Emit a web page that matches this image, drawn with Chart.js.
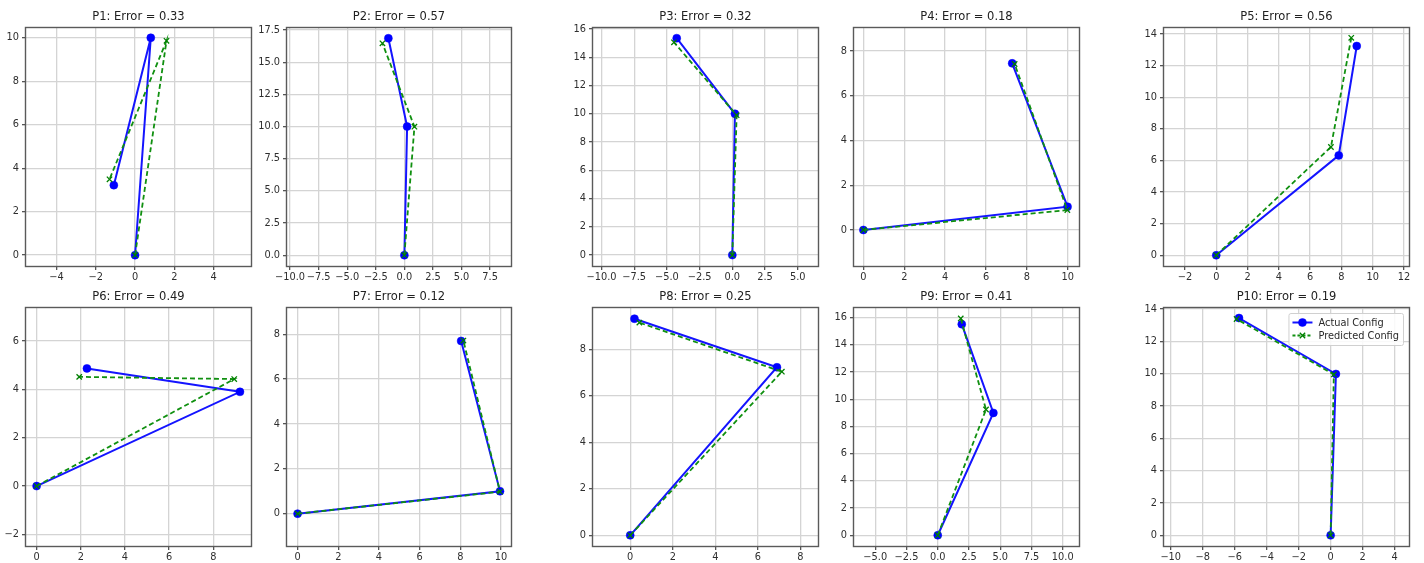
<!DOCTYPE html>
<html>
<head>
<meta charset="utf-8">
<title>Actual vs Predicted Config</title>
<script src="https://cdn.jsdelivr.net/npm/chart.js@4.4.1/dist/chart.umd.min.js"></script>
<style>
  html, body { margin: 0; padding: 0; background: #fff; }
  #figure { position: relative; width: 1424px; height: 563px; overflow: hidden; }
  #figure canvas { position: absolute; }
</style>
</head>
<body>
<div id="figure"></div>
<script>
// panel names and errors
const titles = ['P1', 'P2', 'P3', 'P4', 'P5', 'P6', 'P7', 'P8', 'P9', 'P10'];
const errors = [0.33, 0.57, 0.32, 0.18, 0.56, 0.49, 0.12, 0.25, 0.41, 0.19];

// joint positions (base, elbow, end)
const actualX = [
  [0, 0.80, -1.08], [0, 0.24, -1.40], [0, 0.20, -4.25], [0, 9.99, 7.28], [0, 7.83, 8.98],
  [0, 9.21, 2.28], [0, 9.95, 8.04], [0, 6.90, 0.20], [0, 4.45, 1.92], [0, 0.33, -5.73]
];
const actualY = [
  [0, 10.0, 3.22], [0, 10.0, 16.86], [0, 10.0, 15.35], [0, 1.04, 7.45], [0, 6.32, 13.24],
  [0, 3.90, 4.87], [0, 1.00, 7.70], [0, 7.23, 9.32], [0, 8.99, 15.51], [0, 9.98, 13.44]
];
const predictedX = [
  [0, 1.60, -1.30], [0, 0.88, -1.92], [0, 0.33, -4.46], [0, 9.98, 7.40], [0, 7.33, 8.63],
  [0, 8.95, 1.93], [0, 9.95, 8.15], [0, 7.13, 0.43], [0, 3.86, 1.84], [0, 0.20, -5.88]
];
const predictedY = [
  [0, 9.86, 3.49], [0, 9.99, 16.47], [0, 9.90, 15.06], [0, 0.89, 7.42], [0, 6.85, 13.76],
  [0, 4.43, 4.52], [0, 0.98, 7.72], [0, 7.04, 9.15], [0, 9.24, 15.93], [0, 9.95, 13.38]
];

// axis limits
const xLimits = [
  [-5.55, 5.9], [-10.27, 9.33], [-10.65, 6.55], [-0.46, 10.55], [-3.34, 12.32],
  [-0.48, 9.71], [-0.52, 10.49], [-1.75, 8.83], [-6.7, 11.3], [-10.42, 4.9]
];
const yLimits = [
  [-0.5, 10.45], [-0.84, 17.66], [-0.77, 16.07], [-1.61, 9.03], [-0.68, 14.38],
  [-2.48, 7.37], [-1.44, 9.17], [-0.46, 9.78], [-0.79, 16.7], [-0.66, 14.06]
];

// tick labels
const xTicks = [
  [-4, -2, 0, 2, 4],
  [-10, -7.5, -5, -2.5, 0, 2.5, 5, 7.5],
  [-10, -7.5, -5, -2.5, 0, 2.5, 5],
  [0, 2, 4, 6, 8, 10],
  [-2, 0, 2, 4, 6, 8, 10, 12],
  [0, 2, 4, 6, 8],
  [0, 2, 4, 6, 8, 10],
  [0, 2, 4, 6, 8],
  [-5, -2.5, 0, 2.5, 5, 7.5, 10],
  [-10, -8, -6, -4, -2, 0, 2, 4]
];
const yTicks = [
  [0, 2, 4, 6, 8, 10],
  [0, 2.5, 5, 7.5, 10, 12.5, 15, 17.5],
  [0, 2, 4, 6, 8, 10, 12, 14, 16],
  [0, 2, 4, 6, 8],
  [0, 2, 4, 6, 8, 10, 12, 14],
  [-2, 0, 2, 4, 6],
  [0, 2, 4, 6, 8],
  [0, 2, 4, 6, 8],
  [0, 2, 4, 6, 8, 10, 12, 14, 16],
  [0, 2, 4, 6, 8, 10, 12, 14]
];

const seriesLabels = ['Actual Config', 'Predicted Config'];

// plot area boxes in the page (left/right per column, top/bottom per row)
const colEdges = [[26, 251], [287, 511], [593, 818], [854, 1079], [1164, 1409]];
const rowEdges = [[28, 266], [308, 546]];
const GUTTER_LEFT = 50, GUTTER_TOP = 22, GUTTER_RIGHT = 16, GUTTER_BOTTOM = 21;
const FONT = '"DejaVu Sans", sans-serif';

function fmtTick(v, list) {
  const dec = list.some(t => t % 1 !== 0) ? 1 : 0;
  return v.toFixed(dec).replace('-', '\u2212');
}

function toPoints(xs, ys) {
  return xs.map((x, k) => ({ x: x, y: ys[k] }));
}

// matplotlib-like full frame around the axes
const framePlugin = {
  id: 'frame',
  afterDraw(chart) {
    const { ctx, chartArea: a } = chart;
    ctx.save();
    ctx.strokeStyle = '#5a5a5a';
    ctx.lineWidth = 1.4;
    ctx.strokeRect(Math.round(a.left) - 0.5, Math.round(a.top) - 0.5,
      Math.round(a.right - a.left) + 1, Math.round(a.bottom - a.top) + 1);
    ctx.restore();
  }
};

// legend with line + marker handles, drawn inside the axes
const lineLegend = {
  id: 'lineLegend',
  afterDraw(chart, args, opts) {
    if (!opts.show) return;
    const { ctx, chartArea: a } = chart;
    const sets = chart.data.datasets;
    ctx.save();
    ctx.font = '9.8px ' + FONT;
    const textW = Math.max(...sets.map(d => ctx.measureText(d.label).width));
    const pad = 4, rowH = 13, handle = 20, gap = 6;
    const w = pad + handle + gap + textW + pad;
    const h = 3 * 2 + rowH * sets.length;
    const x = a.right - 6 - w, y = a.top + 5;
    ctx.beginPath();
    ctx.roundRect(x + 0.5, y + 0.5, w, h, 2);
    ctx.fillStyle = 'rgba(255,255,255,0.85)';
    ctx.fill();
    ctx.strokeStyle = '#d0d0d0';
    ctx.lineWidth = 1;
    ctx.stroke();
    sets.forEach((d, k) => {
      const cy = y + 3 + rowH * k + rowH / 2;
      ctx.beginPath();
      ctx.setLineDash(d.borderDash ? [3, 2] : []);
      ctx.strokeStyle = d.borderColor;
      ctx.lineWidth = d.borderWidth;
      ctx.moveTo(x + pad, cy);
      ctx.lineTo(x + pad + handle, cy);
      ctx.stroke();
      ctx.setLineDash([]);
      ctx.fillStyle = d.pointBackgroundColor;
      ctx.strokeStyle = d.pointBorderColor;
      ctx.lineWidth = d.pointBorderWidth;
      Chart.helpers.drawPoint(ctx, {
        pointStyle: d.pointStyle, rotation: 0,
        radius: d.pointRadius, borderWidth: d.pointBorderWidth
      }, x + pad + handle / 2, cy);
      ctx.fillStyle = '#2a2a2a';
      ctx.textBaseline = 'middle';
      ctx.textAlign = 'left';
      ctx.fillText(d.label, x + pad + handle + gap, cy + 0.5);
    });
    ctx.restore();
  }
};

const figure = document.getElementById('figure');

titles.forEach((name, i) => {
  const [L, R] = colEdges[i % 5];
  const [T, B] = rowEdges[Math.floor(i / 5)];
  const canvas = document.createElement('canvas');
  const cw = (R - L) + GUTTER_LEFT + GUTTER_RIGHT;
  const ch = (B - T) + GUTTER_TOP + GUTTER_BOTTOM;
  canvas.width = cw;
  canvas.height = ch;
  canvas.style.width = cw + 'px';
  canvas.style.height = ch + 'px';
  canvas.style.left = (L - GUTTER_LEFT) + 'px';
  canvas.style.top = (T - GUTTER_TOP) + 'px';
  figure.appendChild(canvas);

  const tickFont = { family: FONT, size: 9.8 };
  const gridOpts = { color: '#d4d4d4', lineWidth: 1.3, tickLength: 4, tickColor: '#555' };

  new Chart(canvas.getContext('2d'), {
    type: 'scatter',
    data: {
      datasets: [
        {
          label: seriesLabels[0],
          data: toPoints(actualX[i], actualY[i]),
          showLine: true,
          borderColor: '#1414ff',
          borderWidth: 2,
          pointStyle: 'circle',
          pointRadius: 4,
          pointHoverRadius: 4,
          pointBackgroundColor: '#0000ff',
          pointBorderColor: '#0000ff',
          pointBorderWidth: 0.5,
          order: 2
        },
        {
          label: seriesLabels[1],
          data: toPoints(predictedX[i], predictedY[i]),
          showLine: true,
          borderColor: '#109010',
          borderWidth: 1.8,
          borderDash: [5, 3],
          pointStyle: 'crossRot',
          pointRadius: 3.8,
          pointHoverRadius: 3.8,
          pointBackgroundColor: '#008000',
          pointBorderColor: '#008000',
          pointBorderWidth: 1.3,
          order: 1
        }
      ]
    },
    options: {
      responsive: false,
      animation: false,
      events: [],
      layout: { padding: { top: 4, left: 0, right: GUTTER_RIGHT, bottom: 0 } },
      scales: {
        x: {
          type: 'linear',
          min: xLimits[i][0],
          max: xLimits[i][1],
          afterBuildTicks: s => { s.ticks = xTicks[i].map(v => ({ value: v })); },
          afterFit: s => { s.height = GUTTER_BOTTOM; },
          ticks: {
            callback: v => fmtTick(v, xTicks[i]),
            color: '#2e2e2e', font: tickFont, padding: 2,
            maxRotation: 0, autoSkip: false
          },
          grid: gridOpts,
          border: { display: false }
        },
        y: {
          type: 'linear',
          min: yLimits[i][0],
          max: yLimits[i][1],
          afterBuildTicks: s => { s.ticks = yTicks[i].map(v => ({ value: v })); },
          afterFit: s => { s.width = GUTTER_LEFT; },
          ticks: {
            callback: v => fmtTick(v, yTicks[i]),
            color: '#2e2e2e', font: tickFont, padding: 3, autoSkip: false
          },
          grid: gridOpts,
          border: { display: false }
        }
      },
      plugins: {
        legend: { display: false },
        tooltip: { enabled: false },
        title: {
          display: true,
          text: name + ': Error = ' + errors[i].toFixed(2),
          fullSize: false,
          color: '#222',
          font: { family: FONT, size: 11.5, weight: 'normal', lineHeight: '14px' },
          padding: { top: 0, bottom: 4 }
        },
        lineLegend: { show: i === 9 }
      }
    },
    plugins: [framePlugin, lineLegend]
  });
});
</script>
</body>
</html>
